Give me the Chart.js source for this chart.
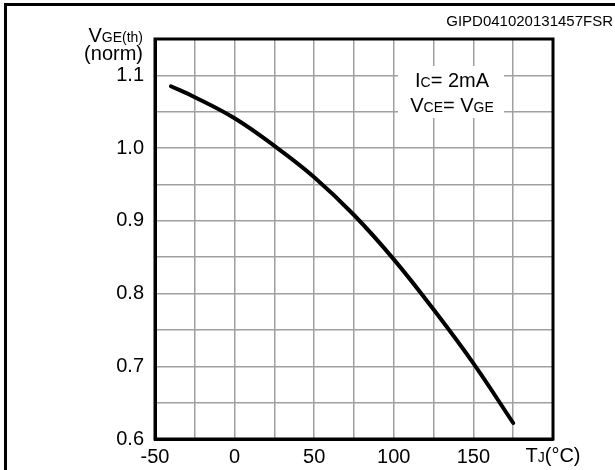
<!DOCTYPE html>
<html>
<head>
<meta charset="utf-8">
<script src="https://cdn.jsdelivr.net/npm/chart.js@4"></script>
<style>
  html, body { margin: 0; padding: 0; background: #fff; }
  #wrap { width: 615px; height: 470px; }
</style>
</head>
<body>
<div id="wrap"><canvas id="vge-chart" width="615" height="470"></canvas></div>
<script>
const temps = [-40, -25, 0, 25, 50, 75, 100, 125, 150, 175];
const vgeNorm = [1.085, 1.070, 1.041, 1.003, 0.960, 0.908, 0.847, 0.778, 0.704, 0.622];
const xTickLabels = [-50, 0, 50, 100, 150];
const yTickLabels = [0.6, 0.7, 0.8, 0.9, 1.0, 1.1];

const FONT = '"Liberation Sans", Arial, sans-serif';
const canvas = document.getElementById('vge-chart');

// draws text made of pieces [text, size] side by side on one baseline
function drawRuns(ctx, runs, x, y, align) {
  let total = 0;
  runs.forEach(r => { ctx.font = r[1] + 'px ' + FONT; total += ctx.measureText(r[0]).width; });
  let cx = align === 'right' ? x - total : align === 'center' ? x - total / 2 : x;
  ctx.textAlign = 'left';
  ctx.textBaseline = 'alphabetic';
  runs.forEach(r => {
    ctx.font = r[1] + 'px ' + FONT;
    ctx.fillText(r[0], cx, y);
    cx += ctx.measureText(r[0]).width;
  });
}

const decorations = {
  id: 'decorations',
  beforeDatasetsDraw(chart) {
    const ctx = chart.ctx;
    // white patch behind the condition note
    ctx.save();
    ctx.fillStyle = '#fff';
    ctx.fillRect(398, 66, 106, 52);
    ctx.restore();
  },
  afterDraw(chart) {
    const ctx = chart.ctx;
    const a = chart.chartArea;
    const xs = chart.scales.x;
    ctx.save();
    ctx.fillStyle = '#000';
    ctx.strokeStyle = '#000';

    // outer frame (cut off at right and bottom)
    ctx.lineWidth = 3;
    ctx.beginPath();
    ctx.moveTo(5.5, 470);
    ctx.lineTo(5.5, 4.5);
    ctx.lineTo(615, 4.5);
    ctx.stroke();

    // plot box
    ctx.lineWidth = 3;
    ctx.strokeRect(a.left, a.top, a.right - a.left, a.bottom - a.top);

    drawRuns(ctx, [['GIPD041020131457FSR', 15]], 613, 26, 'right');
    drawRuns(ctx, [['V', 20], ['GE(th)', 14]], 143, 42, 'right');
    drawRuns(ctx, [['(norm)', 20]], 143, 60, 'right');

    drawRuns(ctx, [['I', 20], ['C', 14], ['= 2mA', 20]], 452, 87, 'center');
    drawRuns(ctx, [['V', 20], ['CE', 14], ['= V', 20], ['GE', 14]], 452, 112, 'center');

    drawRuns(ctx, [['T', 20], ['J', 14], ['(°C)', 20]], xs.getPixelForValue(200), 462, 'center');
    ctx.restore();
  }
};

new Chart(canvas, {
  type: 'line',
  data: {
    datasets: [{
      data: temps.map((t, i) => ({ x: t, y: vgeNorm[i] })),
      borderColor: '#000',
      borderWidth: 4,
      borderCapStyle: 'round',
      pointRadius: 0,
      tension: 0.4,
      fill: false
    }]
  },
  options: {
    responsive: false,
    animation: false,
    devicePixelRatio: 1,
    layout: { padding: { top: 39, right: 62, left: 0, bottom: 0 } },
    plugins: { legend: { display: false }, tooltip: { enabled: false } },
    scales: {
      x: {
        type: 'linear',
        min: -50,
        max: 200,
        afterFit: s => { s.height = 31; },
        border: { display: true, color: '#000', width: 3 },
        grid: { color: '#a0a0a0', lineWidth: 1.5, drawTicks: false },
        ticks: {
          stepSize: 25,
          autoSkip: false,
          maxRotation: 0,
          padding: 6,
          color: '#000',
          font: { family: FONT, size: 20 },
          callback: v => xTickLabels.includes(v) ? String(v) : ''
        }
      },
      y: {
        min: 0.6,
        max: 1.15,
        afterFit: s => { s.width = 155; },
        border: { display: true, color: '#000', width: 3 },
        grid: { color: '#a0a0a0', lineWidth: 1.5, drawTicks: false },
        ticks: {
          stepSize: 0.05,
          autoSkip: false,
          padding: 11,
          color: '#000',
          font: { family: FONT, size: 20 },
          callback: v => {
            const hit = yTickLabels.find(l => Math.abs(l - v) < 1e-6);
            return hit !== undefined ? hit.toFixed(1) : '';
          }
        }
      }
    }
  },
  plugins: [decorations]
});
</script>
</body>
</html>
